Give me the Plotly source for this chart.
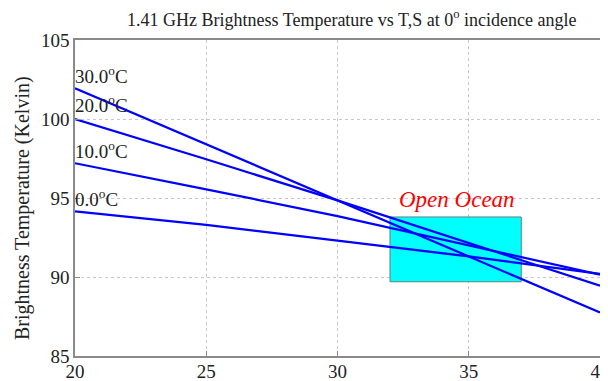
import plotly.graph_objects as go

# Data
salinity = [20, 25, 30, 35, 40]
tb_0C = [94.15, 93.3, 92.3, 91.3, 90.2]
tb_10C = [97.2, 95.55, 93.85, 92.0, 90.15]
tb_20C = [100.0, 97.45, 94.85, 92.15, 89.45]
tb_30C = [101.95, 98.4, 94.9, 91.3, 87.75]
series_names = ["0.0", "10.0", "20.0", "30.0"]
series_values = [tb_0C, tb_10C, tb_20C, tb_30C]
label_y = [94.97, 98.06, 100.96, 102.8]

ocean_S = [32, 37]
ocean_TB = [89.7, 93.8]
ocean_label_xy = [32.25, 94.9]

x_ticks = [20, 25, 30, 35, 40]
y_ticks = [85, 90, 95, 100, 105]

FONT = "Liberation Serif"
TXT = "#222222"

fig = go.Figure()

# Open ocean rectangle
fig.add_trace(go.Scatter(
    x=[ocean_S[0], ocean_S[1], ocean_S[1], ocean_S[0], ocean_S[0]],
    y=[ocean_TB[0], ocean_TB[0], ocean_TB[1], ocean_TB[1], ocean_TB[0]],
    mode="lines", fill="toself", fillcolor="#00ffff",
    line=dict(color="#5f7f7f", width=1), hoverinfo="skip", showlegend=False))

for name, vals in zip(series_names, series_values):
    fig.add_trace(go.Scatter(x=salinity, y=vals, mode="lines",
                             line=dict(color="#0000ff", width=2.2),
                             name=name, showlegend=False))

for name, ly in zip(series_names, label_y):
    fig.add_annotation(x=salinity[0], y=ly, xref="x", yref="y",
                       text=f"{name}<sup>o</sup>C", showarrow=False,
                       xanchor="left", yanchor="middle", xshift=-2,
                       font=dict(family=FONT, size=19, color=TXT))

fig.add_annotation(x=ocean_label_xy[0], y=ocean_label_xy[1], xref="x", yref="y",
                   text="<i>Open Ocean</i>", showarrow=False,
                   xanchor="left", yanchor="middle",
                   font=dict(family=FONT, size=23, color="#ff0000"))

fig.add_annotation(x=0.527, y=1.0, xref="paper", yref="paper",
                   text="1.41 GHz Brightness Temperature vs T,S at 0<sup>o</sup> incidence angle",
                   showarrow=False, xanchor="center", yanchor="bottom", yshift=8,
                   font=dict(family=FONT, size=18, color=TXT))

fig.add_annotation(x=-0.101, y=0.468, xref="paper", yref="paper",
                   text="Brightness Temperature (Kelvin)", textangle=-90,
                   showarrow=False, xanchor="center", yanchor="middle",
                   font=dict(family=FONT, size=20, color=TXT))

axis_common = dict(showline=True, linecolor="#8a8a8a", linewidth=1.5, mirror=True,
                   ticks="inside", ticklen=5, tickcolor="#8a8a8a",
                   showgrid=True, gridcolor="#c8c8c8", griddash="dot", gridwidth=1,
                   zeroline=False, automargin=False, ticklabeloverflow="allow",
                   tickfont=dict(family=FONT, size=19, color=TXT))

fig.update_xaxes(range=[20, 40], tickvals=x_ticks, ticklabelstandoff=-3, **axis_common)
fig.update_yaxes(range=[85, 105], tickvals=y_ticks, **axis_common)

# page body adds an 8px offset, so the figure is 8px smaller and margins shifted
fig.update_layout(width=600, height=373, margin=dict(l=67, r=8, t=32, b=25),
                  plot_bgcolor="white", paper_bgcolor="white")

fig.write_html("out.html")
